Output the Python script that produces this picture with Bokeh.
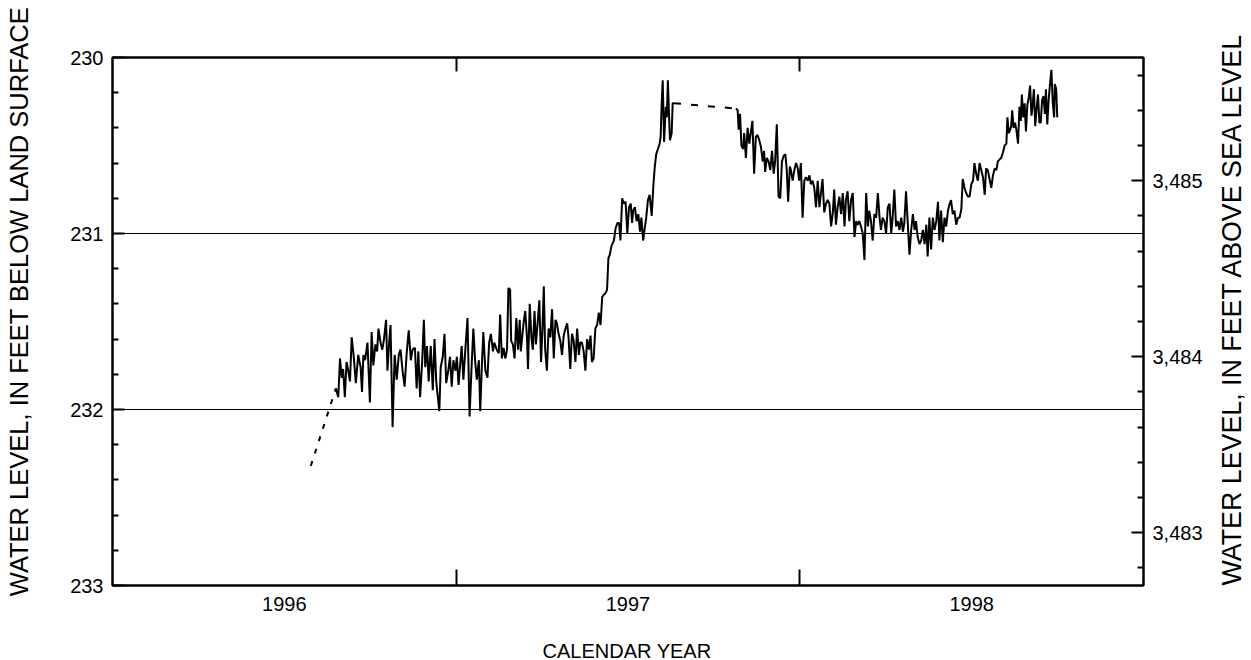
import math
from bokeh.plotting import figure
from bokeh.layouts import row, column
from bokeh.models import Range1d, LinearAxis, FixedTicker, NumeralTickFormatter, Label
from bokeh.embed import file_html
from bokeh.resources import INLINE

# ---------------- data ----------------
LAND_SURFACE = 3715.7  # feet above sea level

year_labels = ["1996", "1997", "1998"]
year_starts = [1996, 1997, 1998, 1999]
depth_ticks = [230, 231, 232, 233]
elev_ticks = [3483, 3484, 3485]
grid_depths = [231, 232]

x_title = "CALENDAR YEAR"
left_title = "WATER LEVEL, IN FEET BELOW LAND SURFACE"
right_title = "WATER LEVEL, IN FEET ABOVE SEA LEVEL"

# estimated (dashed) segments
est_years_1 = [1996.577, 1996.650]
est_depth_1 = [232.32, 231.88]
est_years_2 = [1997.634, 1997.814]
est_depth_2 = [230.26, 230.29]

# measured record, part 1
years_a = [
    1996.650, 1996.657, 1996.662, 1996.667, 1996.671, 1996.676, 1996.681, 1996.686, 1996.691, 1996.696,
    1996.702, 1996.708, 1996.715, 1996.722, 1996.726, 1996.730, 1996.735, 1996.742, 1996.749, 1996.754,
    1996.759, 1996.765, 1996.770, 1996.774, 1996.780, 1996.785, 1996.790, 1996.796, 1996.800, 1996.805,
    1996.809, 1996.815, 1996.821, 1996.827, 1996.833, 1996.838, 1996.844, 1996.850, 1996.856, 1996.862,
    1996.868, 1996.873, 1996.880, 1996.885, 1996.890, 1996.895, 1996.901, 1996.906, 1996.910, 1996.915,
    1996.920, 1996.926, 1996.932, 1996.937, 1996.942, 1996.945, 1996.951, 1996.955, 1996.961, 1996.966,
    1996.971, 1996.977, 1996.982, 1996.987, 1996.992, 1996.998, 1997.002, 1997.007, 1997.011, 1997.016,
    1997.021, 1997.027, 1997.033, 1997.039, 1997.045, 1997.050, 1997.055, 1997.060, 1997.066, 1997.070,
    1997.075, 1997.079, 1997.085, 1997.091, 1997.096, 1997.101, 1997.107, 1997.111, 1997.118, 1997.124,
    1997.128, 1997.133, 1997.138, 1997.143, 1997.148, 1997.152, 1997.157, 1997.160, 1997.165, 1997.170,
    1997.175, 1997.180, 1997.185, 1997.188, 1997.193, 1997.196, 1997.201, 1997.206, 1997.209, 1997.214,
    1997.219, 1997.223, 1997.228, 1997.232, 1997.237, 1997.242, 1997.247, 1997.251, 1997.255, 1997.259,
    1997.264, 1997.269, 1997.274, 1997.279, 1997.284, 1997.289, 1997.293, 1997.298, 1997.303, 1997.308,
    1997.313, 1997.318, 1997.323, 1997.327, 1997.332, 1997.337, 1997.342, 1997.347, 1997.352, 1997.357,
    1997.361, 1997.366, 1997.371, 1997.376, 1997.381, 1997.386, 1997.391, 1997.395, 1997.400, 1997.405,
    1997.410, 1997.415, 1997.420, 1997.425, 1997.429, 1997.434, 1997.439, 1997.443, 1997.447, 1997.452,
    1997.459, 1997.464, 1997.469, 1997.474, 1997.478, 1997.483, 1997.488, 1997.493, 1997.498, 1997.503,
    1997.508, 1997.512, 1997.515, 1997.520, 1997.525, 1997.530, 1997.535, 1997.539, 1997.544, 1997.548,
    1997.553, 1997.558, 1997.563, 1997.569, 1997.574, 1997.578, 1997.582, 1997.587, 1997.592, 1997.595,
    1997.598, 1997.601, 1997.605, 1997.610, 1997.613, 1997.616, 1997.620, 1997.622, 1997.627, 1997.630,
    1997.634,
]
depth_a = [
    231.88, 231.93, 231.71, 231.82, 231.77, 231.93, 231.73, 231.78, 231.84, 231.59,
    231.70, 231.85, 231.69, 231.76, 231.90, 231.69, 231.72, 231.62, 231.96, 231.56,
    231.75, 231.63, 231.67, 231.54, 231.62, 231.66, 231.60, 231.49, 231.78, 231.62,
    231.52, 232.10, 231.69, 231.83, 231.69, 231.66, 231.78, 231.87, 231.68, 231.55,
    231.72, 231.66, 231.65, 231.88, 231.67, 231.93, 231.73, 231.49, 231.76, 231.64,
    231.84, 231.64, 231.89, 231.60, 231.84, 231.90, 232.01, 231.76, 231.70, 231.57,
    231.85, 231.78, 231.70, 231.87, 231.72, 231.78, 231.70, 231.86, 231.76, 231.64,
    231.83, 231.65, 231.48, 232.04, 231.75, 231.54, 231.72, 231.83, 231.72, 232.01,
    231.74, 231.56, 231.78, 231.82, 231.62, 231.57, 231.67, 231.62, 231.66, 231.68,
    231.46, 231.71, 231.65, 231.71, 231.66, 231.31, 231.32, 231.61, 231.63, 231.71,
    231.48, 231.66, 231.49, 231.67, 231.57, 231.51, 231.44, 231.59, 231.77, 231.40,
    231.59, 231.66, 231.44, 231.63, 231.51, 231.38, 231.73, 231.55, 231.30, 231.66,
    231.78, 231.54, 231.59, 231.43, 231.71, 231.49, 231.51, 231.57, 231.61, 231.69,
    231.58, 231.54, 231.51, 231.59, 231.77, 231.57, 231.61, 231.73, 231.54, 231.69,
    231.62, 231.62, 231.67, 231.78, 231.60, 231.66, 231.58, 231.73, 231.71, 231.54,
    231.52, 231.45, 231.52, 231.36, 231.35, 231.34, 231.32, 231.14, 231.12, 231.07,
    231.04, 230.97, 230.94, 230.94, 231.04, 230.80, 230.83, 230.82, 231.00, 230.85,
    230.83, 230.94, 230.87, 230.85, 230.93, 230.89, 230.99, 230.91, 231.04, 230.98,
    230.91, 230.81, 230.78, 230.90, 230.72, 230.62, 230.55, 230.52, 230.49, 230.45,
    230.26, 230.13, 230.48, 230.28, 230.34, 230.13, 230.36, 230.47, 230.43, 230.26,
    230.26,
]

# measured record, part 2
years_b = [
    1997.814, 1997.819, 1997.822, 1997.826, 1997.830, 1997.835, 1997.838, 1997.843, 1997.848, 1997.853,
    1997.857, 1997.862, 1997.867, 1997.872, 1997.877, 1997.882, 1997.887, 1997.892, 1997.896, 1997.899,
    1997.904, 1997.909, 1997.914, 1997.919, 1997.924, 1997.928, 1997.933, 1997.938, 1997.943, 1997.948,
    1997.953, 1997.958, 1997.962, 1997.966, 1997.971, 1997.974, 1997.979, 1997.984, 1997.989, 1997.994,
    1997.998, 1998.003, 1998.008, 1998.013, 1998.018, 1998.023, 1998.028, 1998.032, 1998.037, 1998.042,
    1998.047, 1998.052, 1998.057, 1998.062, 1998.066, 1998.071, 1998.076, 1998.081, 1998.086, 1998.091,
    1998.096, 1998.100, 1998.105, 1998.110, 1998.115, 1998.120, 1998.125, 1998.130, 1998.134, 1998.139,
    1998.144, 1998.149, 1998.154, 1998.159, 1998.164, 1998.168, 1998.173, 1998.178, 1998.183, 1998.188,
    1998.193, 1998.198, 1998.202, 1998.207, 1998.212, 1998.217, 1998.222, 1998.227, 1998.232, 1998.236,
    1998.241, 1998.246, 1998.251, 1998.256, 1998.261, 1998.266, 1998.270, 1998.275, 1998.280, 1998.285,
    1998.290, 1998.295, 1998.300, 1998.304, 1998.309, 1998.314, 1998.319, 1998.324, 1998.329, 1998.334,
    1998.338, 1998.343, 1998.348, 1998.353, 1998.358, 1998.363, 1998.368, 1998.372, 1998.377, 1998.382,
    1998.387, 1998.392, 1998.397, 1998.402, 1998.406, 1998.411, 1998.416, 1998.421, 1998.426, 1998.431,
    1998.436, 1998.440, 1998.445, 1998.450, 1998.455, 1998.460, 1998.465, 1998.470, 1998.474, 1998.479,
    1998.484, 1998.489, 1998.494, 1998.499, 1998.504, 1998.508, 1998.513, 1998.518, 1998.523, 1998.528,
    1998.533, 1998.538, 1998.542, 1998.547, 1998.552, 1998.557, 1998.562, 1998.567, 1998.572, 1998.576,
    1998.581, 1998.586, 1998.591, 1998.596, 1998.601, 1998.604, 1998.608, 1998.612, 1998.615, 1998.618,
    1998.622, 1998.626, 1998.630, 1998.635, 1998.639, 1998.643, 1998.646, 1998.650, 1998.654, 1998.658,
    1998.662, 1998.666, 1998.670, 1998.674, 1998.678, 1998.681, 1998.685, 1998.689, 1998.693, 1998.697,
    1998.701, 1998.705, 1998.709, 1998.713, 1998.716, 1998.720, 1998.724, 1998.728, 1998.732, 1998.736,
    1998.740, 1998.742, 1998.746, 1998.749,
]
depth_b = [
    230.29, 230.30, 230.41, 230.32, 230.50, 230.52, 230.43, 230.57, 230.40, 230.49,
    230.43, 230.36, 230.66, 230.45, 230.44, 230.47, 230.51, 230.59, 230.53, 230.65,
    230.57, 230.59, 230.64, 230.53, 230.66, 230.59, 230.38, 230.79, 230.80, 230.59,
    230.56, 230.55, 230.64, 230.82, 230.62, 230.64, 230.70, 230.64, 230.60, 230.63,
    230.70, 230.60, 230.91, 230.70, 230.68, 230.70, 230.67, 230.72, 230.70, 230.74,
    230.85, 230.70, 230.85, 230.76, 230.69, 230.88, 230.83, 230.81, 230.83, 230.96,
    230.88, 230.75, 230.95, 230.85, 230.79, 230.89, 230.77, 230.96, 230.81, 230.76,
    230.93, 230.81, 230.77, 231.02, 230.93, 230.95, 230.93, 230.96, 231.00, 231.15,
    230.77, 230.96, 230.87, 230.93, 231.04, 230.89, 230.91, 230.77, 230.91, 230.98,
    230.91, 230.93, 231.00, 230.85, 230.83, 231.00, 230.91, 230.75, 230.96, 230.93,
    230.98, 230.91, 230.99, 230.94, 230.76, 230.94, 231.12, 230.98, 230.89, 230.98,
    230.93, 231.02, 231.06, 231.04, 230.98, 231.06, 230.95, 231.13, 230.91, 231.09,
    230.91, 230.98, 230.93, 230.82, 231.04, 230.87, 231.05, 230.91, 230.96, 230.87,
    230.83, 230.81, 230.89, 230.87, 230.95, 230.91, 230.91, 230.86, 230.69, 230.74,
    230.77, 230.79, 230.79, 230.72, 230.70, 230.60, 230.66, 230.70, 230.60, 230.64,
    230.68, 230.78, 230.63, 230.64, 230.69, 230.74, 230.67, 230.63, 230.64, 230.59,
    230.58, 230.57, 230.54, 230.50, 230.49, 230.34, 230.43, 230.41, 230.39, 230.30,
    230.40, 230.37, 230.41, 230.49, 230.28, 230.36, 230.21, 230.34, 230.26, 230.42,
    230.27, 230.23, 230.16, 230.33, 230.26, 230.18, 230.39, 230.29, 230.21, 230.37,
    230.37, 230.24, 230.22, 230.32, 230.18, 230.38, 230.24, 230.15, 230.07, 230.26,
    230.34, 230.15, 230.18, 230.34,
]

# ---------------- styling / layout ----------------
FONT = "Liberation Sans"
TICK_FS = "20px"
W_LEFT, W_RIGHT = 40, 36      # side strips holding the vertical titles
H_TOP, H_BOTTOM = 630, 30     # main row / strip holding the x title
TOTAL_W = 1251

depth_minor = [round(depth_ticks[0] + 0.2 * i, 1) for i in range(1, 15) if i % 5 != 0]
elev_minor = [round(3482.8 + 0.2 * i, 1) for i in range(15) if i % 5 != 1]

def no_frame_align(fig):
    if "frame_align" in fig.properties():
        fig.frame_align = False

p = figure(
    width=TOTAL_W - W_LEFT - W_RIGHT, height=H_TOP,
    x_range=Range1d(year_starts[0], year_starts[-1]),
    y_range=Range1d(depth_ticks[-1], depth_ticks[0]),
    output_backend="svg", toolbar_location=None,
    min_border_left=72, min_border_right=72, min_border_top=57, min_border_bottom=45,
    background_fill_color="white", border_fill_color="white",
)
no_frame_align(p)
p.outline_line_color = "black"
p.outline_line_width = 2
p.extra_y_ranges = {"elev": Range1d(LAND_SURFACE - depth_ticks[-1], LAND_SURFACE - depth_ticks[0])}

# grid
p.xgrid.visible = False
p.ygrid.ticker = FixedTicker(ticks=grid_depths)
p.ygrid.grid_line_color = "black"
p.ygrid.grid_line_width = 1
p.ygrid.grid_line_alpha = 1.0

def style_axis(ax):
    ax.axis_line_color = "black"
    ax.axis_line_width = 2
    ax.major_tick_line_color = "black"
    ax.major_tick_line_width = 2
    ax.minor_tick_line_color = "black"
    ax.minor_tick_line_width = 2
    ax.major_label_text_font = FONT
    ax.major_label_text_font_size = TICK_FS
    ax.major_label_text_color = "black"

# bottom axis: year labels centred in each year, ticks at year boundaries
xa = p.xaxis[0]
style_axis(xa)
mid_years = [y + 0.5 for y in year_starts[:-1]]
xa.ticker = FixedTicker(ticks=mid_years, minor_ticks=year_starts[1:-1])
xa.major_label_overrides = {m: lab for m, lab in zip(mid_years, year_labels)}
xa.major_tick_in = 0
xa.major_tick_out = 0
xa.minor_tick_in = 16
xa.minor_tick_out = 0
xa.major_label_standoff = 11

# top axis
top = LinearAxis(ticker=FixedTicker(ticks=year_starts[1:-1]))
style_axis(top)
top.major_tick_in = 14
top.major_tick_out = 0
top.major_label_text_color = None
top.major_label_text_font_size = "1px"
top.major_label_standoff = 0
p.add_layout(top, "above")

# left axis: depth below land surface
ya = p.yaxis[0]
style_axis(ya)
ya.ticker = FixedTicker(ticks=depth_ticks, minor_ticks=depth_minor)
ya.major_tick_in = 12
ya.major_tick_out = 0
ya.minor_tick_in = 6
ya.minor_tick_out = 0
ya.major_label_standoff = 9

# right axis: elevation
ra = LinearAxis(y_range_name="elev",
                ticker=FixedTicker(ticks=elev_ticks, minor_ticks=elev_minor),
                formatter=NumeralTickFormatter(format="0,0"))
style_axis(ra)
ra.major_tick_in = 12
ra.major_tick_out = 0
ra.minor_tick_in = 6
ra.minor_tick_out = 0
ra.major_label_standoff = 9
p.add_layout(ra, "right")

# data
p.line(years_a, depth_a, line_color="black", line_width=2)
p.line(years_b, depth_b, line_color="black", line_width=2)
p.line(est_years_1, est_depth_1, line_color="black", line_width=2, line_dash="5 8")
p.line(est_years_2, est_depth_2, line_color="black", line_width=2, line_dash="7 10")

# title strips (pixel coordinates, y measured from the top of each strip)
def title_strip(w, h, text, cx, cy, angle, size):
    f = figure(width=w, height=h, x_range=Range1d(0, w), y_range=Range1d(h, 0),
               output_backend="svg", toolbar_location=None,
               x_axis_location=None, y_axis_location=None, min_border=0,
               min_border_left=0, min_border_right=0, min_border_top=0, min_border_bottom=0,
               background_fill_color="white", border_fill_color="white")
    no_frame_align(f)
    f.outline_line_color = None
    f.xgrid.visible = False
    f.ygrid.visible = False
    f.add_layout(Label(x=cx, y=cy, text=text, angle=angle, angle_units="rad",
                       text_align="center", text_baseline="middle",
                       text_font=FONT, text_font_size=size, text_color="black"))
    return f

left_strip = title_strip(W_LEFT, H_TOP, left_title, 18, 301, math.pi / 2, "25.5px")
right_strip = title_strip(W_RIGHT, H_TOP, right_title, 16, 308, math.pi / 2, "26.8px")
bottom_strip = title_strip(TOTAL_W, H_BOTTOM, x_title, 626.5, 20, 0, "20px")

layout = column(row(left_strip, p, right_strip, spacing=0), bottom_strip, spacing=0)

open("out.html", "w").write(file_html(layout, INLINE))
